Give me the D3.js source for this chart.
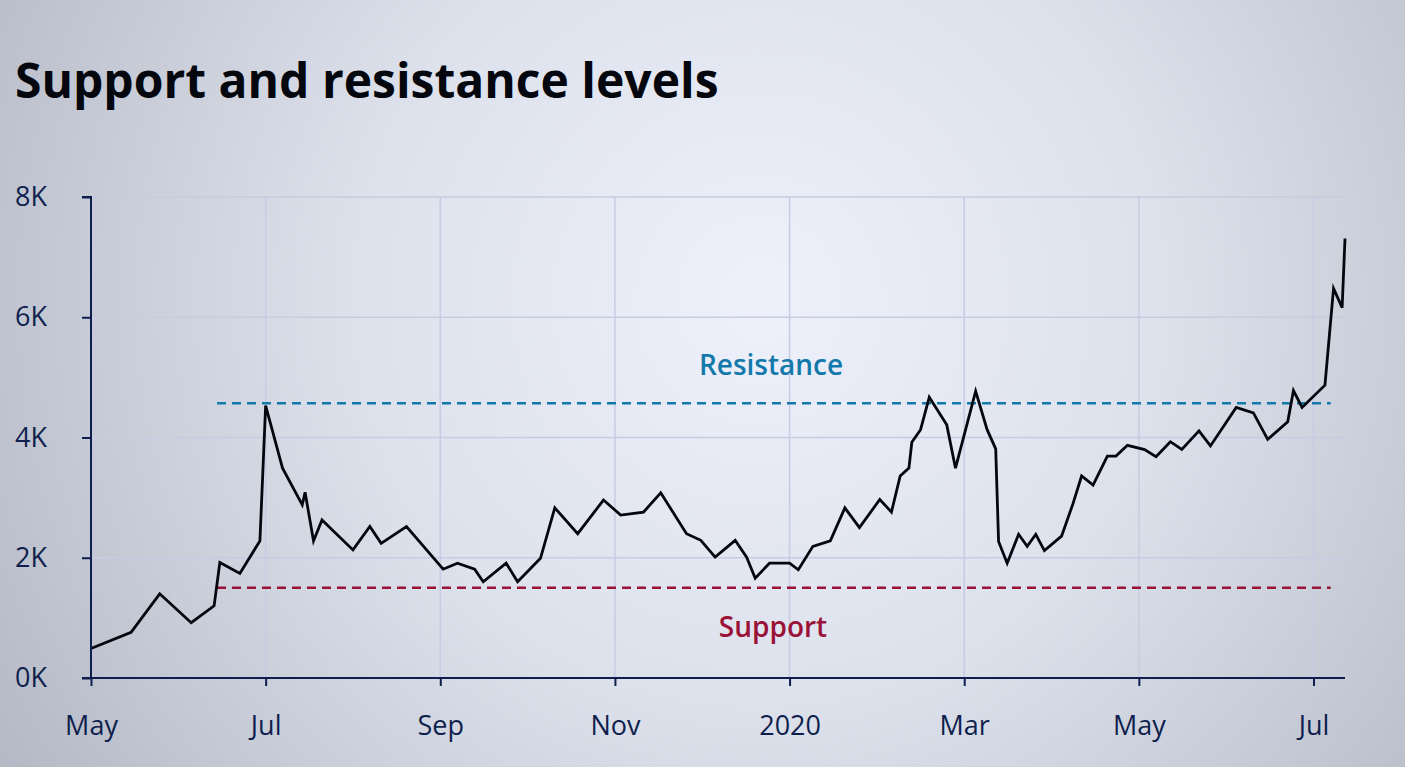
<!DOCTYPE html>
<html>
<head>
<meta charset="utf-8">
<script src="https://cdn.jsdelivr.net/npm/d3@7"></script>
<style>
  html, body { margin: 0; padding: 0; }
  body { width: 1405px; height: 767px; overflow: hidden; font-family: "Open Sans", sans-serif; }
</style>
</head>
<body>
<svg id="chart" width="1405" height="767"></svg>
<script>
// ---- data ----
const dates = [
  "2019-05-01","2019-05-15","2019-05-25","2019-06-05","2019-06-13","2019-06-15","2019-06-22","2019-06-29",
  "2019-07-01","2019-07-07","2019-07-14","2019-07-15","2019-07-18","2019-07-21","2019-08-01","2019-08-07",
  "2019-08-11","2019-08-20","2019-09-02","2019-09-07","2019-09-13","2019-09-16","2019-09-24","2019-09-28",
  "2019-10-06","2019-10-11","2019-10-19","2019-10-28","2019-11-03","2019-11-11","2019-11-17","2019-11-26",
  "2019-12-01","2019-12-06","2019-12-13","2019-12-17","2019-12-20","2019-12-25","2020-01-01","2020-01-04",
  "2020-01-09","2020-01-15","2020-01-20","2020-01-25","2020-02-01","2020-02-05","2020-02-08","2020-02-11",
  "2020-02-12","2020-02-15","2020-02-18","2020-02-24","2020-02-27","2020-03-05","2020-03-09","2020-03-12",
  "2020-03-13","2020-03-16","2020-03-20","2020-03-23","2020-03-26","2020-03-29","2020-04-04","2020-04-08",
  "2020-04-11","2020-04-15","2020-04-20","2020-04-23","2020-04-27","2020-05-03","2020-05-07","2020-05-12",
  "2020-05-16","2020-05-22","2020-05-26","2020-06-04","2020-06-10","2020-06-15","2020-06-22","2020-06-24",
  "2020-06-27","2020-07-05","2020-07-08","2020-07-11","2020-07-12"
];
const values = [
  490, 760, 1400, 920, 1200, 1920, 1740, 2280,
  4530, 3490, 2880, 3090, 2280, 2630, 2130, 2520,
  2240, 2520, 1810, 1910, 1810, 1600, 1910, 1600,
  1990, 2830, 2400, 2960, 2710, 2760, 3080, 2400,
  2290, 2010, 2290, 2010, 1660, 1910, 1910, 1800,
  2190, 2280, 2830, 2500, 2970, 2760, 3360, 3490,
  3920, 4130, 4670, 4210, 3490, 4770, 4130, 3810,
  2270, 1910, 2390, 2190, 2390, 2120, 2360, 2900,
  3360, 3210, 3690, 3690, 3870, 3800, 3680, 3930,
  3800, 4110, 3860, 4500, 4410, 3970, 4260, 4780,
  4500, 4870, 6480, 6160, 7310
];
const yTicks = [0, 2000, 4000, 6000, 8000];
const xTickDates = ["2019-05-01","2019-07-01","2019-09-01","2019-11-01","2020-01-01","2020-03-01","2020-05-01","2020-07-01"];
const levelNames = ["Resistance", "Support"];
const levelValues = [4570, 1500];
const levelStart = ["2019-06-14"];
const levelEnd = ["2020-07-07"];
const titleText = "Support and resistance levels";

// ---- drawing ----
const parse = d3.timeParse("%Y-%m-%d");
const data = dates.map((d, i) => ({ date: parse(d), value: values[i] }));

const svg = d3.select("#chart");
const W = 1405, H = 767;

const defs = svg.append("defs");
const grad = defs.append("radialGradient").attr("id", "bg")
  .attr("gradientUnits", "userSpaceOnUse")
  .attr("cx", 760).attr("cy", 300).attr("r", 900);
grad.append("stop").attr("offset", "0%").attr("stop-color", "#eef1fb");
grad.append("stop").attr("offset", "45%").attr("stop-color", "#dde1ec");
grad.append("stop").attr("offset", "100%").attr("stop-color", "#b4b8c4");
svg.append("rect").attr("width", W).attr("height", H).attr("fill", "url(#bg)");

const m = { left: 91, right: 1345, top: 197, bottom: 678 };

// month ticks are evenly spaced; the last partial month extends to the data end
const tickDates = xTickDates.map(parse);
const endDate = d3.max(data, d => d.date);
const tailDays = (endDate - tickDates[tickDates.length - 1]) / 864e5;
const step = (m.right - m.left) / ((tickDates.length - 1) + tailDays / 61);
const x = d3.scaleTime()
  .domain([...tickDates, endDate])
  .range([...tickDates.map((d, i) => m.left + i * step), m.right]);
const y = d3.scaleLinear().domain([0, 8000]).range([m.bottom, m.top]);

const axisColor = "#0e1f4d";
const gridColor = "#c6cce3";

// grid
const grid = svg.append("g");
grid.selectAll("line.h").data(yTicks).join("line")
  .attr("x1", m.left).attr("x2", m.right)
  .attr("y1", d => y(d)).attr("y2", d => y(d))
  .attr("stroke", gridColor).attr("stroke-width", 1.5);
grid.selectAll("line.v").data(tickDates).join("line")
  .attr("x1", d => x(d)).attr("x2", d => x(d))
  .attr("y1", m.top).attr("y2", m.bottom)
  .attr("stroke", gridColor).attr("stroke-width", 1.5);

// level lines
const levelColors = ["#1379ab", "#9a1238"];
levelValues.forEach((v, i) => {
  svg.append("line")
    .attr("x1", x(parse(levelStart[0]))).attr("x2", x(parse(levelEnd[0])))
    .attr("y1", y(v)).attr("y2", y(v))
    .attr("stroke", levelColors[i]).attr("stroke-width", 2.6)
    .attr("stroke-dasharray", "9,6");
});

// line
svg.append("path").datum(data)
  .attr("fill", "none").attr("stroke", "#05070f").attr("stroke-width", 2.8)
  .attr("stroke-linejoin", "miter")
  .attr("d", d3.line().x(d => x(d.date)).y(d => y(d.value)));

// axes
const yAxis = d3.axisLeft(y).tickValues(yTicks).tickFormat(d => (d / 1000) + "K")
  .tickSize(9).tickPadding(33);
const gy = svg.append("g").attr("transform", `translate(${m.left},0)`).call(yAxis);
gy.select(".domain").attr("stroke", axisColor).attr("stroke-width", 2).attr("d", `M-9,${m.top}H0V${m.bottom}`);
gy.selectAll(".tick line").attr("stroke", axisColor).attr("stroke-width", 2);
gy.selectAll(".tick text").attr("fill", axisColor).style("font-size", "27px")
  .style("font-family", "'Open Sans', sans-serif").attr("text-anchor", "start").attr("x", -76);

const fmt = d => d.getMonth() === 0 ? d3.timeFormat("%Y")(d) : d3.timeFormat("%b")(d);
const xAxis = d3.axisBottom(x).tickValues(tickDates).tickFormat(fmt)
  .tickSize(8).tickPadding(30);
const gx = svg.append("g").attr("transform", `translate(0,${m.bottom})`).call(xAxis);
gx.select(".domain").attr("stroke", axisColor).attr("stroke-width", 2).attr("d", `M${m.left - 9},0H${m.right}`);
gx.selectAll(".tick line").attr("stroke", axisColor).attr("stroke-width", 2);
gx.selectAll(".tick text").attr("fill", axisColor).style("font-size", "27px")
  .style("font-family", "'Open Sans', sans-serif");

// level labels
svg.append("text").attr("x", 771).attr("y", 375).attr("text-anchor", "middle")
  .attr("fill", levelColors[0]).style("font-size", "28px").style("font-weight", 600)
  .text(levelNames[0]);
svg.append("text").attr("x", 773).attr("y", 637).attr("text-anchor", "middle")
  .attr("fill", levelColors[1]).style("font-size", "28px").style("font-weight", 600)
  .text(levelNames[1]);

// title
svg.append("text").attr("x", 15).attr("y", 98)
  .attr("fill", "#05070f").style("font-size", "48px").style("font-weight", 700)
  .text(titleText);
</script>
</body>
</html>
